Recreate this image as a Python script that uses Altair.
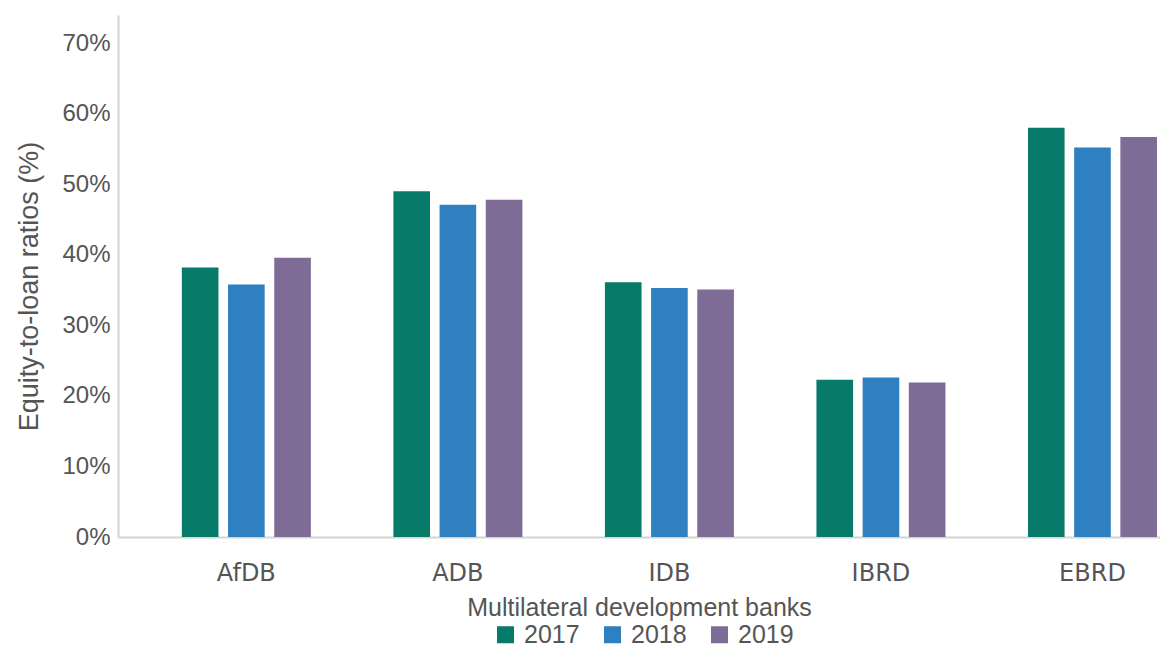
import altair as alt
import pandas as pd

banks = ["AfDB", "ADB", "IDB", "IBRD", "EBRD"]
years = ["2017", "2018", "2019"]
v2017 = [38.2, 49.0, 36.1, 22.3, 58.0]
v2018 = [35.8, 47.1, 35.3, 22.6, 55.2]
v2019 = [39.6, 47.8, 35.1, 21.9, 56.7]
colors = ["#087a69", "#2f80c0", "#7e6c96"]
y_ticks = [0, 10, 20, 30, 40, 50, 60, 70]

rows = []
for yr, vals in zip(years, [v2017, v2018, v2019]):
    for b, v in zip(banks, vals):
        rows.append({"bank": b, "year": yr, "ratio": v})
df = pd.DataFrame(rows)

txt = "#555555"
chart = alt.Chart(df).mark_bar().encode(
    x=alt.X(
        "bank:N", sort=banks,
        scale=alt.Scale(paddingInner=0.39, paddingOuter=0.158, align=0.955),
        axis=alt.Axis(
            title="Multilateral development banks", labelAngle=0, ticks=False,
            domainColor="#d4d4d4", domainWidth=2,
            labelFont="DejaVu Sans", labelFontSize=24, labelColor=txt, labelPadding=24,
            titleFont="Liberation Sans", titleFontSize=25, titleFontWeight="normal",
            titleColor=txt, titlePadding=10,
        ),
    ),
    xOffset=alt.XOffset("year:N", scale=alt.Scale(domain=years, paddingInner=0.207, paddingOuter=0)),
    y=alt.Y(
        "ratio:Q", scale=alt.Scale(domain=[0, 74], nice=False),
        axis=alt.Axis(
            values=y_ticks, labelExpr="datum.value + '%'", grid=False, ticks=False,
            domainColor="#d4d4d4", domainWidth=2,
            labelFont="Liberation Sans", labelFontSize=24, labelColor=txt, labelPadding=8,
            title="Equity-to-loan ratios (%)", titleFont="Liberation Sans", titleFontSize=27,
            titleFontWeight="normal", titleColor=txt, titlePadding=18, titleY=271,
        ),
    ),
    color=alt.Color(
        "year:N", scale=alt.Scale(domain=years, range=colors),
        legend=alt.Legend(
            orient="none", legendX=375, legendY=607, direction="horizontal",
            title=None, symbolType="square", symbolSize=289, padding=0,
            symbolStrokeWidth=0, labelFont="Liberation Sans", labelFontSize=25,
            labelColor=txt, columnPadding=20, labelOffset=6,
        ),
    ),
).properties(
    width=1042, height=522,
    padding={"left": 110, "top": 7, "right": 0, "bottom": 118},
    autosize=alt.AutoSizeParams(type="none"),
).configure_view(stroke=None)

chart.save("out.html", embed_options={"renderer": "svg", "actions": False})
